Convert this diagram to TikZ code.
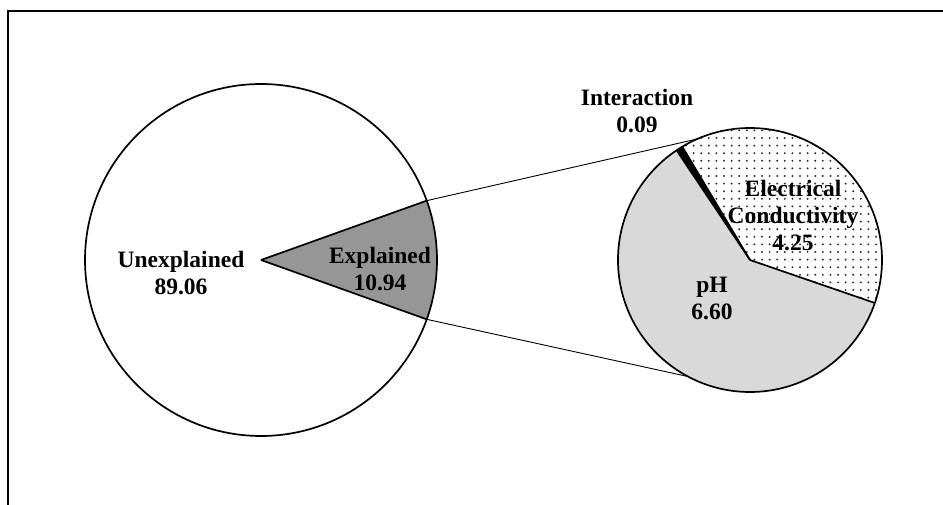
\documentclass[tikz,border=0pt]{standalone}
\usepackage{fontspec}
\setmainfont{Liberation Serif}
\begin{document}
\begin{tikzpicture}[x=1pt,y=1pt,
  lbl/.style={font=\fontsize{23.5}{27}\selectfont\bfseries, align=center, inner sep=0pt},
  pieline/.style={draw=black, line width=1.7pt},
  conn/.style={draw=black, line width=0.9pt}]
\useasboundingbox (0,0) rectangle (943,504);
\fill[white] (0,0) rectangle (943,504);
\begin{scope}
\clip (0,0) rectangle (943,504);
\draw[line width=2.2pt] (8,-20) -- (8,493) -- (960,493);
\end{scope}
% left pie
\coordinate (lc) at (261,244);
\coordinate (rc) at (750,244);
\def\LR{176}
\def\RR{132}
\fill[white] (lc) circle (\LR);
\fill[black!41] (lc) -- ++(-19.7:\LR) arc (-19.7:19.7:\LR) -- cycle;
\draw[pieline] (lc) circle (\LR);
\draw[pieline] (lc) -- ++(-19.7:\LR);
\draw[pieline] (lc) -- ++(19.7:\LR);
% right pie
\fill[black!15] (rc) -- ++(123.8:\RR) arc (123.8:341:\RR) -- cycle;
\fill[white] (rc) -- ++(-19:\RR) arc (-19:120.85:\RR) -- cycle;
\begin{scope}
\clip (rc) -- ++(-19:\RR) arc (-19:120.85:\RR) -- cycle;
\foreach \xx in {610,617.6,...,890} {
  \foreach \yy in {100,107.6,...,390} {
    \fill[black!80] (\xx,\yy) circle (1.1);
  }
}
\end{scope}
\fill[black] (rc) -- ++(120.85:\RR) arc (120.85:123.8:\RR) -- cycle;
\draw[pieline] (rc) circle (\RR);
\draw[pieline] (rc) -- ++(-19:\RR);
\draw[pieline] (rc) -- ++(120.85:\RR);
\draw[pieline] (rc) -- ++(123.8:\RR);
% connectors
\path (lc) ++(19.7:\LR) coordinate (la);
\path (lc) ++(-19.7:\LR) coordinate (lb);
\path (rc) ++(113.5:\RR) coordinate (ra);
\path (rc) ++(242:\RR) coordinate (rb);
\draw[conn] (la) -- (ra);
\draw[conn] (lb) -- (rb);
% labels
\node[lbl] (unexp) at (181,231) {Unexplained\\89.06};
\node[lbl] (exp) at (380,235) {Explained\\10.94};
\node[lbl] (inter) at (637,393) {Interaction\\0.09};
\node[lbl] (ec) at (793,288) {Electrical\\Conductivity\\4.25};
\node[lbl] (ph) at (712,206) {pH\\6.60};
\end{tikzpicture}
\end{document}
